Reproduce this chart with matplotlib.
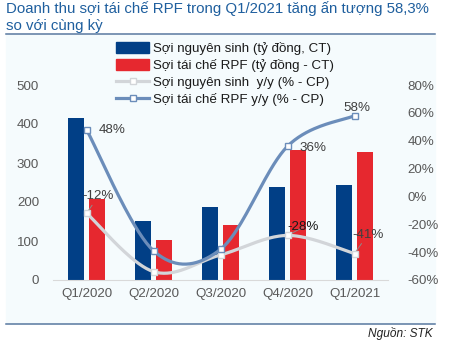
"""
Doanh thu sợi nguyên sinh / sợi tái chế RPF theo quý, kèm tăng trưởng y/y.
"""
import numpy as np
import matplotlib.pyplot as plt
from matplotlib.patches import Rectangle, Patch
from matplotlib.lines import Line2D

plt.rcParams.update({"font.family": ["Liberation Sans", "DejaVu Sans"], "font.size": 9})

QUARTERS   = ["Q1/2020", "Q2/2020", "Q3/2020", "Q4/2020", "Q1/2021"]
VIRGIN_REV = [415, 151, 187, 238, 244]      # tỷ đồng
RPF_REV    = [208, 103, 141, 333, 328]      # tỷ đồng
VIRGIN_YOY = [-12, -54, -42, -28, -41]      # %
RPF_YOY    = [48, -39, -38, 36, 58]         # %

NAVY   = "#013F86"
RED    = "#E6282F"
BLUE_L = "#6B8DBA"
GRAY_L = "#D2D5D9"
TXT    = "#595959"
TITLE  = "#1F5F9E"


def smooth(xs, ys, n=40):
    """Catmull-Rom spline through the points (Excel-style smoothed line)."""
    p = np.column_stack([xs, ys]).astype(float)
    p = np.vstack([p[0], p, p[-1]])
    out = []
    for i in range(1, len(p) - 2):
        p0, p1, p2, p3 = p[i - 1], p[i], p[i + 1], p[i + 2]
        t = np.linspace(0, 1, n)[:, None]
        seg = 0.5 * ((2 * p1) + (-p0 + p2) * t + (2 * p0 - 5 * p1 + 4 * p2 - p3) * t**2
                     + (-p0 + 3 * p1 - 3 * p2 + p3) * t**3)
        out.append(seg)
    c = np.vstack(out)
    return c[:, 0], c[:, 1]


fig = plt.figure(figsize=(4.49, 3.48), dpi=100)

# panel background + rules
fig.patches.append(Rectangle((6 / 449, 1 - 323 / 348), 429 / 449, 288 / 348,
                             transform=fig.transFigure, color="#F5FBFD", zorder=-5))
fig.add_artist(Line2D([6 / 449, 435 / 449], [1 - 34 / 348] * 2, color="#5878A0", lw=1.1))
fig.add_artist(Line2D([6 / 449, 435 / 449], [1 - 324 / 348] * 2, color="#5878A0", lw=1.1))

fig.text(6 / 449, 1 - 9 / 348, "Doanh thu sợi tái chế RPF trong Q1/2021 tăng ấn tượng 58,3%",
         color=TITLE, fontsize=10.8, va="center", ha="left")
fig.text(6 / 449, 1 - 26 / 348, "so với cùng kỳ", color=TITLE, fontsize=10.8,
         va="center", ha="left")
fig.text(433 / 449, 1 - 334 / 348, "Nguồn: STK", fontstyle="italic", fontsize=8.6,
         color="#222222", ha="right", va="center")

ax = fig.add_axes([53 / 449, 68 / 348, 335 / 449, 195 / 348])
ax.patch.set_visible(False)
x = np.arange(len(QUARTERS))
w = 0.24
ax.bar(x - 0.15, VIRGIN_REV, w, color=NAVY, zorder=2)
ax.bar(x + 0.15, RPF_REV, w, color=RED, zorder=2)
ax.set_xlim(-0.5, 4.5)
ax.set_ylim(0, 500)
ax.set_yticks(range(0, 501, 100))
ax.set_xticks(x)
ax.set_xticklabels(QUARTERS)
for s in ("top", "right", "left"):
    ax.spines[s].set_visible(False)
ax.spines["bottom"].set_color("#D9D9D9")
ax.tick_params(length=0, colors=TXT, labelsize=9.6)
ax.tick_params(axis="x", pad=6)
ax.tick_params(axis="y", pad=10)

ax2 = ax.twinx()
ax2.set_ylim(-60, 80)
ax2.set_yticks(range(-60, 81, 20))
ax2.yaxis.set_major_formatter(lambda v, _: f"{v:.0f}%")
for s in ax2.spines.values():
    s.set_visible(False)
ax2.tick_params(length=0, colors=TXT, labelsize=9.6, pad=14)

for vals, col in ((VIRGIN_YOY, GRAY_L), (RPF_YOY, BLUE_L)):
    sx, sy = smooth(x, vals)
    ax2.plot(sx, sy, color=col, lw=2.3, zorder=3, solid_capstyle="round")
    ax2.plot(x, vals, ls="none", marker="s", ms=4.5, mfc="white", mec=col, mew=1.0, zorder=4)

# data labels (offsets in points)
lbl = dict(textcoords="offset points", fontsize=9.6, color="#404040")
lead = dict(arrowstyle="-", color="#8C8C8C", lw=0.7, shrinkA=0, shrinkB=2)
ax2.annotate(f"{RPF_YOY[0]}%", (x[0], RPF_YOY[0]), xytext=(8.5, 0), ha="left", va="center", **lbl)
ax2.annotate(f"{RPF_YOY[3]}%", (x[3], RPF_YOY[3]), xytext=(9, -1.5), ha="left", va="center", **lbl)
ax2.annotate(f"{RPF_YOY[4]}%", (x[4], RPF_YOY[4]), xytext=(1.5, 1), ha="center", va="bottom", **lbl)
ax2.annotate(f"{VIRGIN_YOY[0]}%", (x[0], VIRGIN_YOY[0]), xytext=(8.5, 12), ha="center",
             va="center", arrowprops=lead, **lbl)
ax2.annotate(f"{VIRGIN_YOY[3]}%", (x[3], VIRGIN_YOY[3]), xytext=(11.5, 6), ha="center",
             va="center", arrowprops=lead, **{**lbl, "color": "#1A1A1A"})
ax2.annotate(f"{VIRGIN_YOY[4]}%", (x[4], VIRGIN_YOY[4]), xytext=(9.5, 13.5), ha="center",
             va="center", arrowprops=lead, **lbl)

handles = [
    Patch(color=NAVY),
    Patch(color=RED),
    Line2D([], [], color=GRAY_L, lw=2.3, marker="s", ms=4.5, mfc="white", mec=GRAY_L),
    Line2D([], [], color=BLUE_L, lw=2.3, marker="s", ms=4.5, mfc="white", mec=BLUE_L),
]
labels = ["Sợi nguyên sinh (tỷ đồng, CT)", "Sợi tái chế RPF (tỷ đồng - CT)",
          "Sợi nguyên sinh  y/y (% - CP)", "Sợi tái chế RPF y/y (% - CP)"]
fig.legend(handles, labels, loc="upper left", bbox_to_anchor=(116 / 449, 1 - 42 / 348),
           frameon=False, fontsize=9.6, handlelength=2.5, handleheight=0.9,
           handletextpad=0.25, labelspacing=0.28, borderpad=0, borderaxespad=0,
           labelcolor="#1A1A1A")

fig.savefig("out.png", dpi=100)
